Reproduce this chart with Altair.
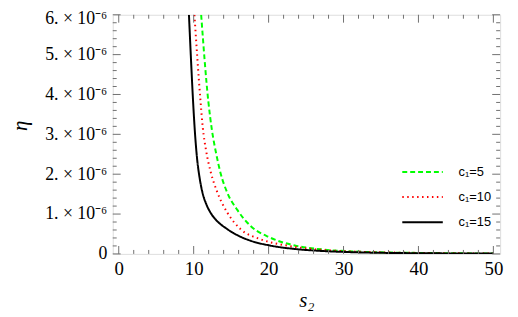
import altair as alt
import pandas as pd

# ---- data (eta in units of 1e-6) ----
series_names = ["c\u2081=5", "c\u2081=10", "c\u2081=15"]

green_s2 = [11.0, 11.95, 12.45, 13.0, 13.6, 14.5, 15.8, 17.6, 20.2, 23.5, 27.0, 31.7, 36.0, 40.0, 50.0]
green_eta = [6.0, 3.84, 3.09, 2.52, 2.02, 1.53, 1.11, 0.70, 0.41, 0.21, 0.115, 0.058, 0.035, 0.025, 0.01]

red_s2 = [10.1, 10.91, 11.21, 11.65, 12.31, 13.19, 14.51, 16.27, 18.9, 22.4, 26.0, 30.0, 35.0, 40.0, 50.0]
red_eta = [6.0, 3.84, 3.18, 2.60, 2.03, 1.53, 1.03, 0.62, 0.37, 0.21, 0.12, 0.07, 0.04, 0.025, 0.01]

black_s2 = [9.37, 9.65, 9.9, 10.15, 10.45, 10.8, 11.2, 11.7, 12.3, 13.0, 14.5, 15.83, 17.6, 20.2, 23.7, 27.0, 31.7, 38.3, 45.0, 50.0]
black_eta = [6.0, 4.85, 3.9, 3.1, 2.4, 1.9, 1.52, 1.24, 1.02, 0.85, 0.62, 0.47, 0.33, 0.21, 0.12, 0.075, 0.04, 0.02, 0.012, 0.008]

x_major = [0, 10, 20, 30, 40, 50]
x_minor = [v for v in range(2, 50, 2) if v % 10 != 0]
y_major = [0, 1, 2, 3, 4, 5, 6]
y_minor = [round(i * 0.2, 1) for i in range(1, 30) if i % 5 != 0]

rows = []
for name, xs, ys in [(series_names[0], green_s2, green_eta),
                     (series_names[1], red_s2, red_eta),
                     (series_names[2], black_s2, black_eta)]:
    for a, b in zip(xs, ys):
        rows.append({"series": name, "s2": a, "eta": b})
df = pd.DataFrame(rows)

W, H = 392, 242
FRAME = "#707070"
SERIF = "Liberation Serif"

xscale = alt.Scale(domain=[-0.8, 50.9], nice=False, zero=False)
yscale = alt.Scale(domain=[0, 6], nice=False, zero=False)

x_axis = alt.Axis(values=x_major, ticks=False, domain=False, grid=False,
                  labelFont=SERIF, labelFontSize=19, labelColor="black",
                  labelPadding=6, labelFlush=False,
                  title="s\u2082", titleFont=SERIF, titleFontStyle="italic",
                  titleFontSize=21, titleFontWeight="normal", titleColor="black",
                  titleBaseline="middle", titleY=47)
y_axis = alt.Axis(values=y_major, ticks=False, domain=False, grid=False,
                  labelFont=SERIF, labelFontSize=18, labelColor="black",
                  labelPadding=6, labelBaseline="middle", labelFlush=False,
                  labelOffset={"condition": {"test": "datum.value == 6", "value": 4}, "value": 0},
                  labelExpr="datum.value == 0 ? '0' : format(datum.value, 'd') + '. \u00d7 10\u207b\u2076'",
                  title="\u03b7", titleFont=SERIF, titleFontStyle="italic",
                  titleFontSize=21, titleFontWeight="normal", titleColor="black",
                  titleAngle=-90, titleAlign="center", titleBaseline="middle",
                  titleX=-93, titleY=112)

legend_kw = dict(title=None, orient="none", legendX=293, legendY=152.5,
                 symbolType="M-4.1,0H4.1", symbolSize=100,
                 symbolStrokeWidth=2, symbolOffset=14,
                 labelOffset=30, rowPadding=11.5, padding=0,
                 labelFont="Liberation Sans", labelFontSize=13,
                 labelColor="black")

lines = alt.Chart(df).mark_line(strokeWidth=2, clip=True, interpolate="monotone").encode(
    x=alt.X("s2:Q", scale=xscale, axis=x_axis),
    y=alt.Y("eta:Q", scale=yscale, axis=y_axis),
    color=alt.Color("series:N",
                    scale=alt.Scale(domain=series_names, range=["#00ff00", "#ff0000", "#000000"]),
                    legend=alt.Legend(**legend_kw)),
    strokeDash=alt.StrokeDash("series:N",
                              scale=alt.Scale(domain=series_names, range=[[5, 3], [1.5, 3.5], [1, 0]]),
                              legend=alt.Legend(**legend_kw)),
    order="s2:Q",
)

xmaj = pd.DataFrame({"v": x_major})
xmin = pd.DataFrame({"v": x_minor})
ymaj = pd.DataFrame({"v": y_major})
ymin = pd.DataFrame({"v": y_minor})


def xticks(d, y0, y1):
    return alt.Chart(d).mark_rule(color=FRAME, strokeWidth=1).encode(
        x=alt.X("v:Q", scale=xscale, axis=x_axis),
        y=alt.value(y0), y2=alt.value(y1))


def yticks(d, x0, x1):
    return alt.Chart(d).mark_rule(color=FRAME, strokeWidth=1).encode(
        y=alt.Y("v:Q", scale=yscale, axis=y_axis),
        x=alt.value(x0), x2=alt.value(x1))


ticks = [
    xticks(xmaj, H, H - 8), xticks(xmin, H, H - 4),
    xticks(xmaj, 0, 8), xticks(xmin, 0, 4),
    yticks(ymaj, 0, 8), yticks(ymin, 0, 4),
    yticks(ymaj, W, W - 8), yticks(ymin, W, W - 4),
]

chart = alt.layer(lines, *ticks).properties(
    width=W, height=H,
    autosize=alt.AutoSizeParams(type="none"),
    padding={"left": 106, "top": 5, "right": 10, "bottom": 62},
).configure_view(stroke=FRAME, strokeWidth=1).configure(background="white")

chart.save("out.html", embed_options={"renderer": "svg", "actions": False})
